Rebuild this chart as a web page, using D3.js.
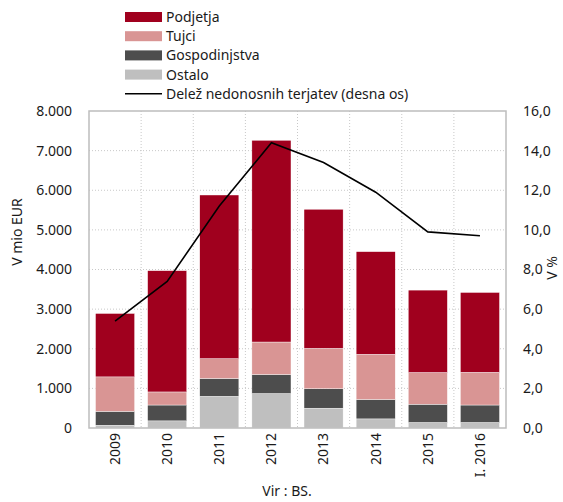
<!DOCTYPE html>
<html>
<head>
<meta charset="utf-8">
<script src="https://cdn.jsdelivr.net/npm/d3@7"></script>
<style>
body { margin: 0; background: #fff; }
text { font-family: "Noto Sans", sans-serif; fill: #1a1a1a; }
</style>
</head>
<body>
<div id="chart"></div>
<script>
const width = 563, height = 502;
const margin = {top: 111, bottom: 74, left: 89, right: 57};

const years = ['2009', '2010', '2011', '2012', '2013', '2014', '2015', 'I. 2016'];
const podjetja = [1600, 3060, 4130, 5090, 3510, 2590, 2080, 2015];
const tujci = [870, 330, 500, 820, 1020, 1140, 800, 825];
const gospodinjstva = [350, 400, 450, 480, 490, 490, 460, 440];
const ostalo = [70, 180, 800, 870, 500, 230, 140, 140];
const delez = [5.4, 7.4, 11.2, 14.4, 13.4, 11.9, 9.9, 9.7];

const leftTicks = [0, 1000, 2000, 3000, 4000, 5000, 6000, 7000, 8000];
const rightTicks = [0, 2, 4, 6, 8, 10, 12, 14, 16];

const series = [
    {key: 'ostalo', name: 'Ostalo', color: '#bfbfbf', values: ostalo},
    {key: 'gospodinjstva', name: 'Gospodinjstva', color: '#4d4d4d', values: gospodinjstva},
    {key: 'tujci', name: 'Tujci', color: '#d99594', values: tujci},
    {key: 'podjetja', name: 'Podjetja', color: '#a0001e', values: podjetja}
];

const graph_width = width - margin.left - margin.right;
const graph_height = height - margin.top - margin.bottom;

const rows = years.map(function(y, i) {
    let r = {year: y};
    series.forEach(function(s) { r[s.key] = s.values[i]; });
    return r;
});

const svg = d3.select('#chart').append('svg')
    .attr('width', width)
    .attr('height', height);

const x = d3.scaleBand().domain(years).range([margin.left, margin.left + graph_width]).paddingInner(0.25).paddingOuter(0.125);
const yL = d3.scaleLinear().domain([0, 8000]).range([margin.top + graph_height, margin.top]);
const yR = d3.scaleLinear().domain([0, 16]).range([margin.top + graph_height, margin.top]);

// grid
const grid = svg.append('g').attr('stroke', '#c8c8c8').attr('stroke-dasharray', '1,2').attr('stroke-width', 1);
grid.selectAll('line.h').data(leftTicks.slice(1, -1)).enter().append('line')
    .attr('x1', margin.left).attr('x2', margin.left + graph_width)
    .attr('y1', d => yL(d)).attr('y2', d => yL(d));
grid.selectAll('line.v').data(years.slice(1)).enter().append('line')
    .attr('x1', d => x(d) - x.step() * x.paddingInner() / 2)
    .attr('x2', d => x(d) - x.step() * x.paddingInner() / 2)
    .attr('y1', margin.top).attr('y2', margin.top + graph_height);

// bars
const stack = d3.stack().keys(series.map(s => s.key))(rows);
svg.append('g').selectAll('g').data(stack).enter().append('g')
    .attr('fill', (d, i) => series[i].color)
    .selectAll('rect').data(d => d).enter().append('rect')
    .attr('x', d => x(d.data.year))
    .attr('width', x.bandwidth())
    .attr('y', d => yL(d[1]))
    .attr('height', d => yL(d[0]) - yL(d[1]))
    .attr('stroke', '#ffffff')
    .attr('stroke-width', 0.4);

// frame
svg.append('rect')
    .attr('x', margin.left).attr('y', margin.top)
    .attr('width', graph_width).attr('height', graph_height)
    .attr('fill', 'none').attr('stroke', '#bdbdbd').attr('stroke-width', 1.5);

// line
const line = d3.line().x((d, i) => x(years[i]) + x.bandwidth() / 2).y(d => yR(d));
svg.append('path').datum(delez)
    .attr('d', line)
    .attr('fill', 'none').attr('stroke', '#000').attr('stroke-width', 1.6);

// axes
const fmtL = d => d3.format(',')(d).replace(/,/g, '.');
const fmtR = d => d3.format('.1f')(d).replace('.', ',');

const axL = svg.append('g')
    .attr('transform', 'translate(' + (margin.left - 14) + ',0)')
    .call(d3.axisLeft(yL).tickValues(leftTicks).tickFormat(fmtL).tickSize(0));
const axR = svg.append('g')
    .attr('transform', 'translate(' + (margin.left + graph_width + 14) + ',0)')
    .call(d3.axisRight(yR).tickValues(rightTicks).tickFormat(fmtR).tickSize(0));
[axL, axR].forEach(function(a) {
    a.select('.domain').remove();
    a.selectAll('text').attr('font-size', 14).attr('font-family', '"Noto Sans", sans-serif').attr('fill', '#1a1a1a');
});

const axB = svg.append('g')
    .attr('transform', 'translate(0,' + (margin.top + graph_height) + ')')
    .call(d3.axisBottom(x).tickSize(0));
axB.select('.domain').remove();
axB.selectAll('text')
    .attr('font-size', 14).attr('font-family', '"Noto Sans", sans-serif').attr('fill', '#1a1a1a')
    .attr('transform', 'rotate(-90)')
    .attr('text-anchor', 'end')
    .attr('x', -5).attr('y', 0).attr('dy', '0.35em');

// axis labels
svg.append('text')
    .attr('transform', 'rotate(-90,17,232)')
    .attr('x', 17).attr('y', 232).attr('dy', '0.35em')
    .attr('text-anchor', 'middle').attr('font-size', 14)
    .text('V mio EUR');
svg.append('text')
    .attr('transform', 'rotate(-90,552,268)')
    .attr('x', 552).attr('y', 268).attr('dy', '0.35em')
    .attr('text-anchor', 'middle').attr('font-size', 14)
    .text('V %');
svg.append('text')
    .attr('x', 287).attr('y', 496)
    .attr('text-anchor', 'middle').attr('font-size', 14)
    .text('Vir : BS.');

// legend
const legendItems = [series[3], series[2], series[1], series[0]];
const legend = svg.append('g').attr('transform', 'translate(125,17)');
legendItems.forEach(function(s, i) {
    legend.append('rect')
        .attr('x', 0).attr('y', i * 19.2 - 5)
        .attr('width', 37).attr('height', 10)
        .attr('fill', s.color);
    legend.append('text')
        .attr('x', 41).attr('y', i * 19.2).attr('dy', '0.35em')
        .attr('font-size', 14)
        .text(s.name);
});
legend.append('line')
    .attr('x1', 0).attr('x2', 37)
    .attr('y1', 4 * 19.2).attr('y2', 4 * 19.2)
    .attr('stroke', '#000').attr('stroke-width', 1.6);
legend.append('text')
    .attr('x', 41).attr('y', 4 * 19.2).attr('dy', '0.35em')
    .attr('font-size', 14)
    .text('Delež nedonosnih terjatev (desna os)');
</script>
</body>
</html>
